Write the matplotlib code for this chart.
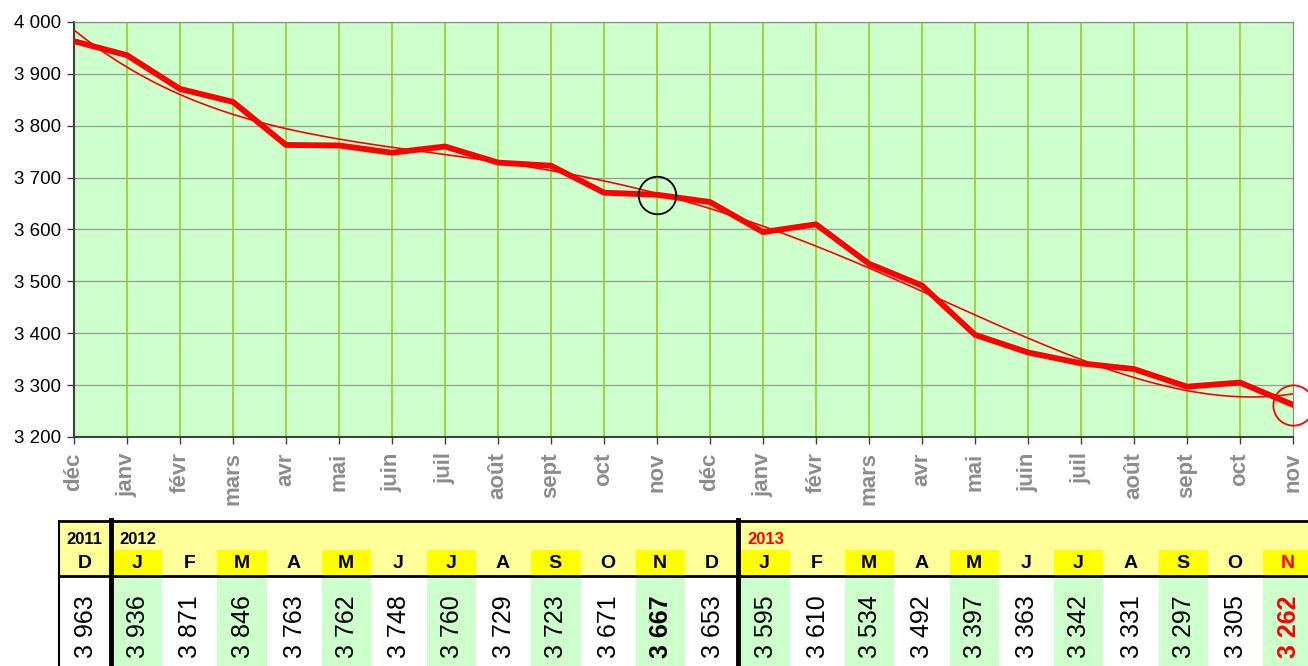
import matplotlib.pyplot as plt
import matplotlib.patches as mpatches
from matplotlib.ticker import FuncFormatter
import numpy as np

plt.rcParams['font.family'] = ['Liberation Sans', 'DejaVu Sans']

# data
month_labels = ['déc', 'janv', 'févr', 'mars', 'avr', 'mai', 'juin', 'juil', 'août', 'sept', 'oct', 'nov',
                'déc', 'janv', 'févr', 'mars', 'avr', 'mai', 'juin', 'juil', 'août', 'sept', 'oct', 'nov']
month_letters = ['D', 'J', 'F', 'M', 'A', 'M', 'J', 'J', 'A', 'S', 'O', 'N',
                 'D', 'J', 'F', 'M', 'A', 'M', 'J', 'J', 'A', 'S', 'O', 'N']
values = [3963, 3936, 3871, 3846, 3763, 3762, 3748, 3760, 3729, 3723, 3671, 3667,
          3653, 3595, 3610, 3534, 3492, 3397, 3363, 3342, 3331, 3297, 3305, 3262]
years = ['2011', '2012', '2013']
year_start = [0, 1, 13]

W, H = 1308, 666
fig = plt.figure(figsize=(W / 100, H / 100), dpi=100)

ax = fig.add_axes([74 / W, 229 / H, (1293 - 74) / W, (437 - 22) / H])
x = np.arange(len(values))
ax.set_facecolor('#ccffcc')

# grid
for yv in range(3300, 4001, 100):
    ax.axhline(yv, color='#9a9a9a', lw=0.9, zorder=1)
for xv in x[1:-1]:
    ax.axvline(xv, color='#99cc22', lw=1.2, zorder=1)

# trend line (polynomial fit like excel)
coef = np.polyfit(x, values, 4)
xs = np.linspace(0, len(values) - 1, 300)
ax.plot(xs, np.polyval(coef, xs), color='red', lw=1.2, zorder=3)

ax.plot(x, values, color='red', lw=4.2, solid_joinstyle='round', zorder=4)

# circles
ax.plot([11], [values[11]], marker='o', ms=27, mfc='none', mec='black', mew=1.3, zorder=5)
ax.plot([23], [values[23]], marker='o', ms=29, mfc='none', mec='red', mew=1.3, zorder=5, clip_on=False)

ax.set_xlim(0, len(values) - 1)
ax.set_ylim(3200, 4000)
ax.set_yticks(range(3200, 4001, 100))
ax.yaxis.set_major_formatter(FuncFormatter(lambda v, p: f"{int(v):,}".replace(',', ' ')))
ax.set_xticks(x)
ax.set_xticklabels(month_labels, rotation=90, fontsize=16, fontweight='bold', color='#8c8c8c')
ax.tick_params(axis='y', labelsize=13.5, length=5, width=1, color='#404040', pad=4)
ax.tick_params(axis='x', length=5, width=1, color='#404040', pad=6)
for s in ['left', 'bottom']:
    ax.spines[s].set_color('#404040')
    ax.spines[s].set_linewidth(1.5)
for s in ['top', 'right']:
    ax.spines[s].set_color('#8c8c8c')
    ax.spines[s].set_linewidth(0.9)

# table below
tb = fig.add_axes([0, 0, 1, 1])
tb.set_xlim(0, W)
tb.set_ylim(H, 0)
tb.axis('off')

x0, cw = 58.5, 52.3
top, mid_top, sep, bot = 521, 550, 576, 666
tb.add_patch(mpatches.Rectangle((x0, top), W - x0, sep - top, color='#ffff99', lw=0))
for i, letter in enumerate(month_letters):
    left = x0 + i * cw
    cx = left + cw / 2
    if i % 2 == 1:
        tb.add_patch(mpatches.Rectangle((left + 2, mid_top), cw - 3, sep - mid_top, color='#ffff00', lw=0))
        tb.add_patch(mpatches.Rectangle((left + 2, sep), cw - 3, bot - sep, color='#ccffcc', lw=0))
    last = i == len(month_letters) - 1
    tb.text(cx, 564, letter, ha='center', va='center', fontsize=14, fontweight='bold',
            color='red' if last else 'black')
    label = f"{values[i]:,}".replace(',', ' ')
    tb.text(cx + 1, 627, label, ha='center', va='center', rotation=90, fontsize=18,
            fontweight='bold' if (i == 11 or last) else 'normal',
            color='red' if last else 'black')

for yr, st in zip(years, year_start):
    left = x0 + st * cw
    if st == 0:
        tb.text(left + cw / 2, 539, yr, ha='center', va='center', fontsize=12, fontweight='bold')
    else:
        tb.text(left + 9, 539, yr, ha='left', va='center', fontsize=12, fontweight='bold',
                color='red' if yr == '2013' else 'black')

tb.plot([x0, W], [top, top], color='black', lw=2)
tb.plot([x0, W], [sep, sep], color='black', lw=2)
tb.plot([x0, x0], [top, bot], color='black', lw=1.5)
for st in year_start[1:]:
    xl = x0 + st * cw
    tb.plot([xl, xl], [top - 1, bot], color='black', lw=3.5)

fig.savefig('out.png', dpi=100)
